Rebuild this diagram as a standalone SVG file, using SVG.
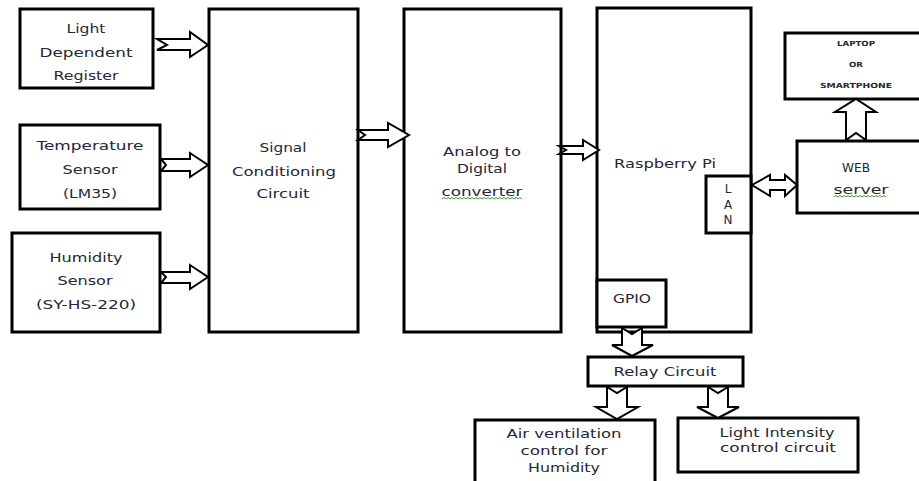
<svg xmlns="http://www.w3.org/2000/svg" width="919" height="481" viewBox="0 0 919 481">
<style>
.box{fill:#fff;stroke:#000;stroke-width:3}
.arr{fill:#fff;stroke:#000;stroke-width:2;stroke-linejoin:miter}
text{font-family:"DejaVu Sans","Liberation Sans",sans-serif;font-size:13px;fill:#262638;text-anchor:middle}
.sm{font-size:7px;font-weight:bold}
.sq{fill:none;stroke:#3a9a3a;stroke-width:1}
</style>
<rect width="919" height="481" fill="#fff"/>
<g id="ldr">
<rect class="box" x="20" y="9" width="133" height="79"/>
<text x="86" y="33" textLength="39" lengthAdjust="spacingAndGlyphs">Light</text>
<text x="86" y="57" textLength="93" lengthAdjust="spacingAndGlyphs">Dependent</text>
<text x="86" y="80" textLength="65" lengthAdjust="spacingAndGlyphs">Register</text>
</g>
<g id="temp">
<rect class="box" x="20" y="125" width="140" height="84"/>
<text x="90" y="150" textLength="107" lengthAdjust="spacingAndGlyphs">Temperature</text>
<text x="90" y="174" textLength="55" lengthAdjust="spacingAndGlyphs">Sensor</text>
<text x="90" y="198" textLength="54" lengthAdjust="spacingAndGlyphs">(LM35)</text>
</g>
<g id="humidity">
<rect class="box" x="12" y="233" width="148" height="99"/>
<text x="86" y="262" textLength="73" lengthAdjust="spacingAndGlyphs">Humidity</text>
<text x="85" y="285" textLength="55" lengthAdjust="spacingAndGlyphs">Sensor</text>
<text x="86" y="309" textLength="100" lengthAdjust="spacingAndGlyphs">(SY-HS-220)</text>
</g>
<g id="signal">
<rect class="box" x="209" y="9" width="149" height="323"/>
<text x="283" y="152" textLength="47" lengthAdjust="spacingAndGlyphs">Signal</text>
<text x="284" y="176" textLength="104" lengthAdjust="spacingAndGlyphs">Conditioning</text>
<text x="283" y="198" textLength="53" lengthAdjust="spacingAndGlyphs">Circuit</text>
</g>
<g id="adc">
<rect class="box" x="404" y="9" width="157" height="323"/>
<text x="482" y="156" textLength="78" lengthAdjust="spacingAndGlyphs">Analog to</text>
<text x="482" y="173" textLength="50" lengthAdjust="spacingAndGlyphs">Digital</text>
<text x="482" y="196" textLength="81" lengthAdjust="spacingAndGlyphs">converter</text>
<path class="sq" d="M442,199 l2,-1.5 l2,1.5 l2,-1.5 l2,1.5 l2,-1.5 l2,1.5 l2,-1.5 l2,1.5 l2,-1.5 l2,1.5 l2,-1.5 l2,1.5 l2,-1.5 l2,1.5 l2,-1.5 l2,1.5 l2,-1.5 l2,1.5 l2,-1.5 l2,1.5 l2,-1.5 l2,1.5 l2,-1.5 l2,1.5 l2,-1.5 l2,1.5 l2,-1.5 l2,1.5 l2,-1.5 l2,1.5 l2,-1.5 l2,1.5 l2,-1.5 l2,1.5 l2,-1.5 l2,1.5 l2,-1.5 l2,1.5 l2,-1.5 l2,1.5"/>
</g>
<g id="rpi">
<rect class="box" x="597" y="8" width="154" height="324"/>
<text x="614" y="168" textLength="102" lengthAdjust="spacingAndGlyphs" style="text-anchor:start">Raspberry Pi</text>
</g>
<g id="lan">
<rect class="box" x="706" y="176" width="45" height="57"/>
<text x="728" y="193" style="font-size:12px">L</text>
<text x="728" y="209" style="font-size:12px">A</text>
<text x="728" y="224" style="font-size:12px">N</text>
</g>
<g id="gpio">
<rect class="box" x="597" y="280" width="69" height="47"/>
<text x="632" y="303" textLength="38" lengthAdjust="spacingAndGlyphs">GPIO</text>
</g>
<g id="laptop">
<rect class="box" x="785" y="33" width="140" height="66"/>
<text class="sm" x="856" y="46" textLength="38" lengthAdjust="spacingAndGlyphs">LAPTOP</text>
<text class="sm" x="856" y="67" textLength="14" lengthAdjust="spacingAndGlyphs">OR</text>
<text class="sm" x="856" y="88" textLength="72" lengthAdjust="spacingAndGlyphs">SMARTPHONE</text>
</g>
<g id="web">
<rect class="box" x="797" y="141" width="130" height="72"/>
<text x="856" y="172" textLength="28" lengthAdjust="spacingAndGlyphs">WEB</text>
<text x="861" y="194" textLength="55" lengthAdjust="spacingAndGlyphs">server</text>
<path class="sq" d="M834,197 l2,-1.5 l2,1.5 l2,-1.5 l2,1.5 l2,-1.5 l2,1.5 l2,-1.5 l2,1.5 l2,-1.5 l2,1.5 l2,-1.5 l2,1.5 l2,-1.5 l2,1.5 l2,-1.5 l2,1.5 l2,-1.5 l2,1.5 l2,-1.5 l2,1.5 l2,-1.5 l2,1.5 l2,-1.5 l2,1.5 l2,-1.5 l2,1.5"/>
</g>
<g id="relay">
<rect class="box" x="588" y="357" width="155" height="29"/>
<text x="665" y="376" textLength="103" lengthAdjust="spacingAndGlyphs">Relay Circuit</text>
</g>
<g id="air">
<rect class="box" x="475" y="420" width="180" height="75"/>
<text x="564" y="438" textLength="115" lengthAdjust="spacingAndGlyphs">Air ventilation</text>
<text x="564" y="455" textLength="87" lengthAdjust="spacingAndGlyphs">control for</text>
<text x="564" y="472" textLength="72" lengthAdjust="spacingAndGlyphs">Humidity</text>
</g>
<g id="light">
<rect class="box" x="678" y="418" width="180" height="54"/>
<text x="777" y="437" textLength="115" lengthAdjust="spacingAndGlyphs">Light Intensity</text>
<text x="778" y="452" textLength="116" lengthAdjust="spacingAndGlyphs">control circuit</text>
</g>
<g id="connectors">
<path class="arr" d="M157,39 L190,39 L190,32 L208,45 L190,57 L190,50 L157,50 L167,45 Z"/>
<path class="arr" d="M161,159 L190,159 L190,153 L208,165 L190,177 L190,171 L161,171 L166,165 Z"/>
<path class="arr" d="M161,272 L190,272 L190,265 L208,277 L190,289 L190,283 L161,283 L166,277 Z"/>
<path class="arr" d="M358,130 L388,130 L388,123 L409,135 L388,147 L388,140 L358,140 L365,135 Z"/>
<path class="arr" d="M559,146 L583,146 L583,140 L599,150 L583,160 L583,154 L559,154 L566,150 Z"/>
<path class="arr" d="M752,185 L770,175 L770,180 L785,180 L785,175 L797,185 L785,196 L785,190 L770,190 L770,196 Z"/>
<path class="arr" d="M846,140 L846,112 L835,112 L856,99 L876,112 L866,112 L866,140 L856,133 Z"/>
<path class="arr" d="M622,328 L622,345 L612,345 L632,356 L653,345 L642,345 L642,328 L632,334 Z"/>
<path class="arr" d="M607,387 L607,407 L596,407 L617,419 L638,407 L627,407 L627,387 L617,393 Z"/>
<path class="arr" d="M708,387 L708,407 L697,407 L718,418 L739,407 L728,407 L728,387 L718,393 Z"/>
</g>
</svg>
